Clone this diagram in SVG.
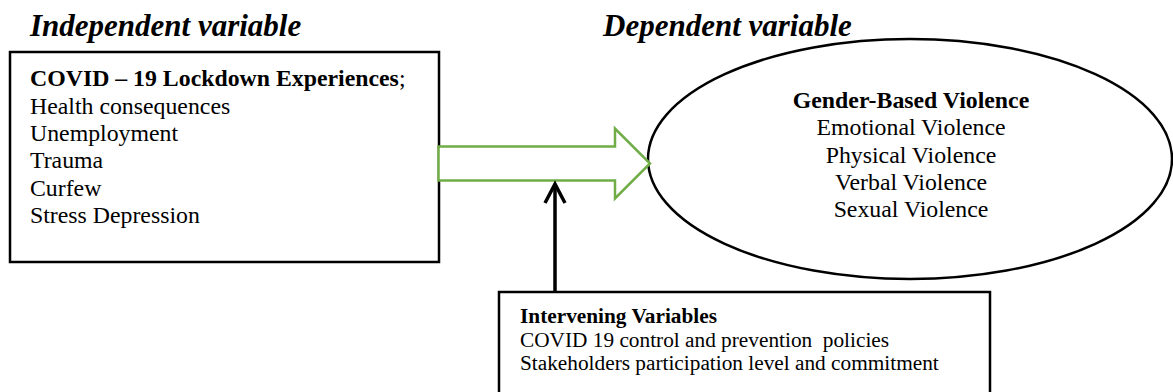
<svg xmlns="http://www.w3.org/2000/svg" width="1173" height="392" viewBox="0 0 1173 392">
<style>
text{font-family:"Liberation Serif","Times New Roman",serif;fill:#000}
.title{font-size:31px;font-weight:bold;font-style:italic}
.body{font-size:23.8px}
.small{font-size:21.3px}
.b{font-weight:bold}
.box{fill:#fff;stroke:#000;stroke-width:2.5}
</style>
<rect width="1173" height="392" fill="#fff"/>
<g id="titles">
<text class="title" x="30" y="36">Independent variable</text>
<text class="title" x="603" y="36">Dependent variable</text>
</g>
<g id="independent">
<rect class="box" x="10" y="52" width="429" height="210"/>
<text class="body" x="30" y="86"><tspan class="b">COVID – 19 Lockdown Experiences</tspan>;</text>
<text class="body" x="30" y="114">Health consequences</text>
<text class="body" x="30" y="141">Unemployment</text>
<text class="body" x="30" y="168">Trauma</text>
<text class="body" x="30" y="196">Curfew</text>
<text class="body" x="30" y="223">Stress Depression</text>
</g>
<g id="dependent">
<ellipse cx="910" cy="159" rx="262" ry="120" fill="#fff" stroke="#000" stroke-width="2.5"/>
<text class="body b" x="911" y="108" text-anchor="middle">Gender-Based Violence</text>
<text class="body" x="911" y="135" text-anchor="middle">Emotional Violence</text>
<text class="body" x="911" y="163" text-anchor="middle">Physical Violence</text>
<text class="body" x="911" y="190" text-anchor="middle">Verbal Violence</text>
<text class="body" x="911" y="217" text-anchor="middle">Sexual Violence</text>
</g>
<g id="intervening">
<rect class="box" x="499" y="292" width="491" height="120"/>
<text class="small b" x="520" y="323">Intervening Variables</text>
<text class="small" x="520" y="347" xml:space="preserve">COVID 19 control and prevention  policies</text>
<text class="small" x="520" y="370">Stakeholders participation level and commitment</text>
</g>
<g id="connectors">
<polygon points="438.5,146.5 615,146.5 615,128.5 650,163.5 615,198.5 615,180.5 438.5,180.5" fill="#fff" stroke="#70AD47" stroke-width="2.5"/>
<line x1="555" y1="292" x2="555" y2="184" stroke="#000" stroke-width="3.5"/>
<polyline points="545,203 555,184 565,203" fill="none" stroke="#000" stroke-width="3.5"/>
</g>
</svg>
